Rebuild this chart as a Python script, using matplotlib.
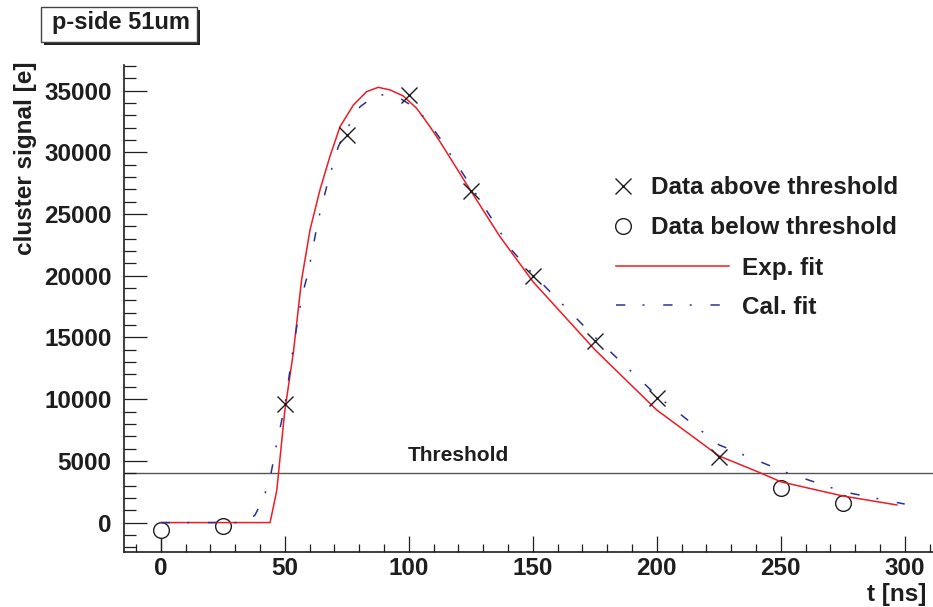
import matplotlib
matplotlib.use("Agg")
import matplotlib.pyplot as plt
from matplotlib.patches import Rectangle
from matplotlib.lines import Line2D
from matplotlib.ticker import MultipleLocator, FormatStrFormatter

plt.rcParams["font.family"] = ["Liberation Sans", "DejaVu Sans"]
plt.rcParams["font.weight"] = "bold"
plt.rcParams["axes.labelweight"] = "bold"
plt.rcParams["lines.scale_dashes"] = False

# ---- data -------------------------------------------------------------
t_above = [50, 75, 100, 125, 150, 175, 200, 225]
v_above = [9600, 31400, 34650, 26900, 19950, 14740, 10070, 5350]

t_below = [0, 25, 250, 275]
v_below = [-600, -280, 2770, 1560]
err_below_lo = [2500, 0, 0, 0]
err_below_hi = [0, 0, 0, 0]

exp_t = [0, 44.1, 46.8, 50, 53.5, 56.8, 60.2, 64.2, 68.2, 72.3, 77.7, 83,
         87.7, 92.5, 97.8, 103.2, 108.6, 112.6, 123.4, 136.8, 150.2, 175.1,
         200, 225.1, 241.3, 250.1, 275.2, 296.8]
exp_v = [0, 0, 2600, 9000, 13800, 19660, 23710, 26950, 29650, 32080, 33840,
         34920, 35270, 35060, 34570, 33570, 32080, 30870, 27400, 23170,
         19500, 14000, 9125, 5400, 4070, 3300, 2150, 1430]

cal_t = [0, 34, 38, 41.4, 44.1, 46.8, 50, 53.5, 56.9, 59.5, 63.5, 67.6, 71.6,
         75.6, 80.4, 85.8, 91.1, 96.5, 101.9, 107.3, 112.6, 125, 141.5,
         150.2, 175.1, 200, 225.1, 252.4, 275.2, 300]
cal_v = [0, 0, 600, 1950, 3590, 6430, 9400, 14250, 18310, 20300, 24520,
         27760, 30460, 32080, 33700, 34510, 34730, 34380, 33700, 32630,
         31140, 27300, 22090, 20100, 15020, 10300, 6300, 4050, 2500, 1500]

threshold = 4050

legend_labels = ["Data above threshold", "Data below threshold",
                 "Exp. fit", "Cal. fit"]

# ---- layout -----------------------------------------------------------
W, H = 933, 607
fig = plt.figure(figsize=(W / 100, H / 100), dpi=100)


def fx(px):
    return px / W


def fy(py):
    return 1 - py / H


ax = fig.add_axes([fx(124), fy(551.7), fx(933) - fx(124), fy(65) - fy(551.7)])
ax.set_xlim(-14.8, 311.4)
ax.set_ylim(-2360, 37080)

dark = "#1e1e1e"
red = "#ee1c24"
blue = "#2b3192"
blue_dashes = (6.7, 12.4, 1.4, 13.5)
FS = 17.5

for s in ("top", "right"):
    ax.spines[s].set_visible(False)
for s in ("left", "bottom"):
    ax.spines[s].set_linewidth(1.2)
    ax.spines[s].set_color(dark)

ax.xaxis.set_major_locator(MultipleLocator(50))
ax.xaxis.set_minor_locator(MultipleLocator(10))
ax.yaxis.set_major_locator(MultipleLocator(5000))
ax.yaxis.set_minor_locator(MultipleLocator(1000))
ax.yaxis.set_major_formatter(FormatStrFormatter("%d"))

ax.tick_params(which="both", direction="in", color=dark, width=0.9,
               labelsize=FS, labelcolor=dark)
ax.tick_params(axis="x", which="major", length=11.3, pad=4)
ax.tick_params(axis="x", which="minor", length=5.5)
ax.tick_params(axis="y", which="major", length=16.3, pad=9)
ax.tick_params(axis="y", which="minor", length=8.6)

# ---- marks ------------------------------------------------------------
ax.axhline(threshold, color="#555555", lw=1.0, zorder=1)
ax.text(99.7, 4990, "Threshold", fontsize=15, color=dark, ha="left",
        va="baseline")

ax.errorbar(t_below, v_below, yerr=[err_below_lo, err_below_hi], fmt="none",
            ecolor=dark, elinewidth=0.9, capsize=0, zorder=2)
ax.plot(t_below, v_below, ls="none", marker="o", ms=11.3, mfc="white",
        mec=dark, mew=1.0, zorder=2.5)

ax.plot(exp_t, exp_v, color=red, lw=1.1, zorder=3)
ax.plot(cal_t, cal_v, color=blue, lw=1.1, dashes=blue_dashes, zorder=3)

ax.plot(t_above, v_above, ls="none", marker="x", ms=11, mew=1.0,
        color=dark, zorder=4)

# ---- legend -----------------------------------------------------------
fig.add_artist(Line2D([fx(623)], [fy(186)], ls="none", marker="x", ms=11,
                      mew=1.0, color=dark, transform=fig.transFigure))
fig.add_artist(Line2D([fx(623)], [fy(226)], ls="none", marker="o", ms=11.3,
                      mfc="none", mec=dark, mew=1.0,
                      transform=fig.transFigure))
fig.add_artist(Line2D([fx(615.7), fx(729.3)], [fy(266), fy(266)], color=red,
                      lw=1.1, transform=fig.transFigure))
fig.add_artist(Line2D([fx(615.7), fx(729.3)], [fy(305), fy(305)], color=blue,
                      lw=1.1, dashes=blue_dashes, transform=fig.transFigure))
for (px, py), lab in zip([(651, 194.5), (651, 234.5), (742, 275), (742, 313.5)],
                         legend_labels):
    fig.text(fx(px), fy(py), lab, fontsize=FS, color=dark, ha="left",
             va="baseline")

# ---- axis titles ------------------------------------------------------
ax.set_xlabel("t [ns]", fontsize=FS, fontweight="bold", color=dark,
              loc="right", va="baseline")
ax.xaxis.set_label_coords((926.7 - 124) / 809, -(601 - 551.7) / 486.7)
ax.set_ylabel("cluster signal [e]", fontsize=FS, fontweight="bold",
              color=dark, loc="top")
ax.yaxis.set_label_coords((37 - 124) / 809, (551.7 - 62) / 486.7)

# ---- title box with drop shadow ---------------------------------------
bx0, by0, bx1, by1 = 40.7, 7.3, 197.3, 41.7
fig.add_artist(Rectangle((fx(bx0 + 3), fy(by1 + 3)), fx(bx1 - bx0),
                         (by1 - by0) / H, transform=fig.transFigure,
                         facecolor="#222222", edgecolor="none"))
fig.add_artist(Rectangle((fx(bx0), fy(by1)), fx(bx1 - bx0), (by1 - by0) / H,
                         transform=fig.transFigure, facecolor="white",
                         edgecolor="#444444", lw=1.0))
fig.text(fx(121), fy(29.3), "p-side 51um", fontsize=17, color=dark,
         ha="center", va="baseline")

fig.savefig("out.png", dpi=100)
